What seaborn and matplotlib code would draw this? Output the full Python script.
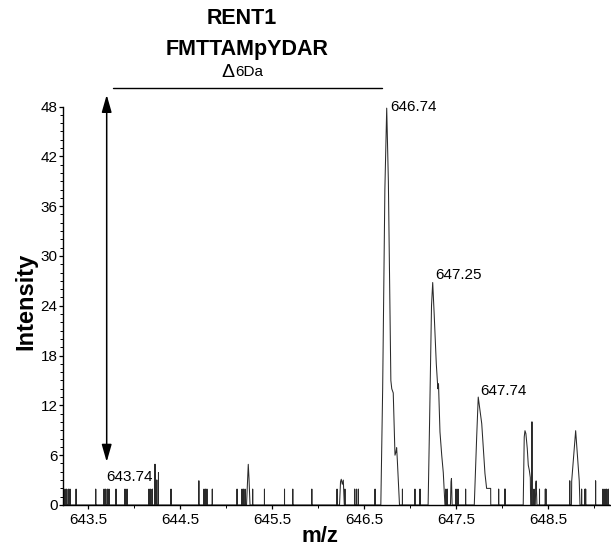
import numpy as np
import pandas as pd
import seaborn as sns
import matplotlib.pyplot as plt

# noise sticks (m/z, intensity)
stick_mz = [643.232, 643.250, 643.268, 643.286, 643.304, 643.370, 643.584, 643.674,
            643.692, 643.710, 643.728, 643.804, 643.902, 643.924, 644.163, 644.182,
            644.199, 644.228, 644.248, 644.266, 644.402, 644.705, 644.761, 644.779,
            644.793, 644.851, 645.120, 645.174, 645.188, 645.207, 645.290, 645.418,
            645.636, 645.726, 645.933, 646.207, 646.293, 646.397, 646.416, 646.438,
            646.620, 646.918, 647.054, 647.109, 647.390, 647.405, 647.500, 647.522,
            647.605, 647.964, 648.029, 648.036, 648.326, 648.348, 648.408, 648.471,
            648.478, 648.737, 648.866, 648.902, 648.910, 649.018, 649.098, 649.120,
            649.138, 649.155]
stick_int = [1.9, 1.9, 1.9, 1.9, 1.9, 1.9, 1.9, 1.9,
             1.9, 1.9, 1.9, 1.9, 1.9, 1.9, 1.9, 1.9,
             1.9, 4.9, 3.0, 3.9, 1.9, 2.9, 1.9, 1.9,
             1.9, 1.9, 1.9, 1.9, 1.9, 1.9, 1.9, 1.9,
             1.9, 1.9, 1.9, 1.9, 1.9, 1.9, 1.9, 1.9,
             1.9, 1.9, 1.9, 1.9, 1.9, 1.9, 1.9, 1.9,
             1.9, 1.9, 1.9, 1.9, 10.0, 1.9, 1.9, 1.9,
             1.9, 2.9, 1.9, 1.9, 1.9, 2.9, 1.9, 1.9,
             1.9, 1.9]

# profile peaks
peak_a_mz = [645.223, 645.234, 645.242, 645.250, 645.261]
peak_a_int = [0, 3.0, 4.9, 3.2, 0]
peak_b_mz = [646.234, 646.245, 646.253, 646.264, 646.275, 646.286]
peak_b_int = [0, 2.8, 3.1, 2.5, 3.0, 0]
peak1_mz = [646.683, 646.703, 646.727, 646.747, 646.765, 646.792, 646.802,
            646.818, 646.837, 646.848, 646.855, 646.862, 646.886]
peak1_int = [0, 14, 38, 47.8, 39, 15, 14, 13.5, 6, 6.4, 6.9, 5.5, 0]
peak2_mz = [647.197, 647.213, 647.234, 647.247, 647.263, 647.286, 647.297,
            647.303, 647.310, 647.326, 647.345, 647.362, 647.380]
peak2_int = [0, 10, 24, 26.8, 23, 17, 15, 14, 14.6, 8.8, 6, 3.9, 0]
peak_c_mz = [647.440, 647.446, 647.451, 647.458]
peak_c_int = [0, 2.8, 3.2, 0]
peak3_mz = [647.699, 647.707, 647.725, 647.742, 647.760, 647.780, 647.815,
            647.833, 647.877, 647.878]
peak3_int = [0, 2.6, 8.2, 13.0, 11.5, 9.8, 3.8, 2.0, 2.0, 0]
peak4_mz = [648.231, 648.242, 648.250, 648.260, 648.275, 648.286, 648.297,
            648.308, 648.312]
peak4_int = [0, 8.2, 8.95, 8.6, 6.8, 4.8, 4.2, 3.3, 0]
peak_d_mz = [648.362, 648.368, 648.372, 648.380]
peak_d_int = [0, 2.6, 2.9, 0]
peak5_mz = [648.755, 648.758, 648.780, 648.801, 648.820, 648.840, 648.848]
peak5_int = [0, 2.9, 6.0, 8.95, 6.0, 2.9, 0]

labels_text = ['646.74', '647.25', '647.74', '643.74']
labels_mz = [646.783, 647.272, 647.761, 643.696]
labels_int = [47.5, 27.2, 13.3, 2.9]

# build one continuous trace
segments = [([m, m, m], [0, h, 0]) for m, h in zip(stick_mz, stick_int)]
for pm, pi in [(peak_a_mz, peak_a_int), (peak_b_mz, peak_b_int),
               (peak1_mz, peak1_int), (peak2_mz, peak2_int),
               (peak_c_mz, peak_c_int), (peak3_mz, peak3_int),
               (peak4_mz, peak4_int), (peak_d_mz, peak_d_int),
               (peak5_mz, peak5_int)]:
    segments.append((pm, pi))
segments.sort(key=lambda s: s[0][0])
trace_mz = [643.228]
trace_int = [0]
for pm, pi in segments:
    trace_mz += list(pm)
    trace_int += list(pi)
trace_mz.append(649.17)
trace_int.append(0)
df = pd.DataFrame({'mz': trace_mz, 'intensity': trace_int})

sns.set_style('ticks')
plt.rcParams['font.family'] = ['Liberation Sans', 'DejaVu Sans']
plt.rcParams['text.color'] = 'black'
plt.rcParams['xtick.color'] = 'black'
plt.rcParams['ytick.color'] = 'black'

fig = plt.figure(figsize=(6.11, 5.5), dpi=100)
ax = fig.add_axes([63 / 611, 1 - 505 / 550, (609.6 - 63) / 611, (505 - 106.5) / 550])

sns.lineplot(data=df, x='mz', y='intensity', estimator=None, sort=False,
             color='#2a2a2a', linewidth=0.75, ax=ax)

ax.set_xlim(643.228, 649.17)
ax.set_ylim(0, 48)
ax.set_xticks([643.5, 644.5, 645.5, 646.5, 647.5, 648.5])
ax.set_xticks(np.arange(643.5, 649.1, 0.5), minor=True)
ax.set_yticks(range(0, 49, 6))
ax.set_yticks(range(0, 49, 1), minor=True)
ax.xaxis.set_major_formatter(plt.FormatStrFormatter('%.1f'))
ax.tick_params(axis='both', which='major', labelsize=11, length=3, width=0.9,
               color='black', labelcolor='black')
ax.tick_params(axis='both', which='minor', length=2, width=0.7, color='black')
ax.tick_params(axis='x', pad=2.5)
ax.tick_params(axis='y', pad=1)
ax.set_xlabel('')
ax.set_ylabel('')
sns.despine(ax=ax)
for sp in ['left', 'bottom']:
    ax.spines[sp].set_color('black')
    ax.spines[sp].set_linewidth(1.0)

for t, m, i in zip(labels_text, labels_mz, labels_int):
    ax.text(m, i, t, fontsize=11, ha='left', va='baseline', color='black')

# double arrow and delta bar
ax.annotate('', xy=(643.703, 49.4), xytext=(643.703, 5.2),
            arrowprops=dict(arrowstyle='<|-|>,head_length=1.05,head_width=0.3',
                            color='black', lw=1.1, shrinkA=0, shrinkB=0),
            annotation_clip=False)
ax.plot([643.772, 646.696], [50.24, 50.24], color='black', lw=1.0, clip_on=False)

fig.text(242 / 611, 1 - 18 / 550, 'RENT1', fontsize=15.5, fontweight='bold',
         ha='center', va='center', color='black')
fig.text(247 / 611, 1 - 50 / 550, 'FMTTAMpYDAR', fontsize=15.5, fontweight='bold',
         ha='center', va='center', color='black')
fig.text(235 / 611, 1 - 76.5 / 550, '\u0394', fontsize=14, ha='right', va='baseline',
         color='black')
fig.text(235 / 611, 1 - 76 / 550, '6Da', fontsize=11, ha='left', va='baseline',
         color='black')
fig.text(26 / 611, 1 - 301 / 550, 'Intensity', fontsize=17, fontweight='bold',
         rotation=90, ha='center', va='center', color='black')
fig.text(320 / 611, 1 - 536 / 550, 'm/z', fontsize=16, fontweight='bold',
         ha='center', va='center', color='black')

fig.savefig('out.png', dpi=100)
